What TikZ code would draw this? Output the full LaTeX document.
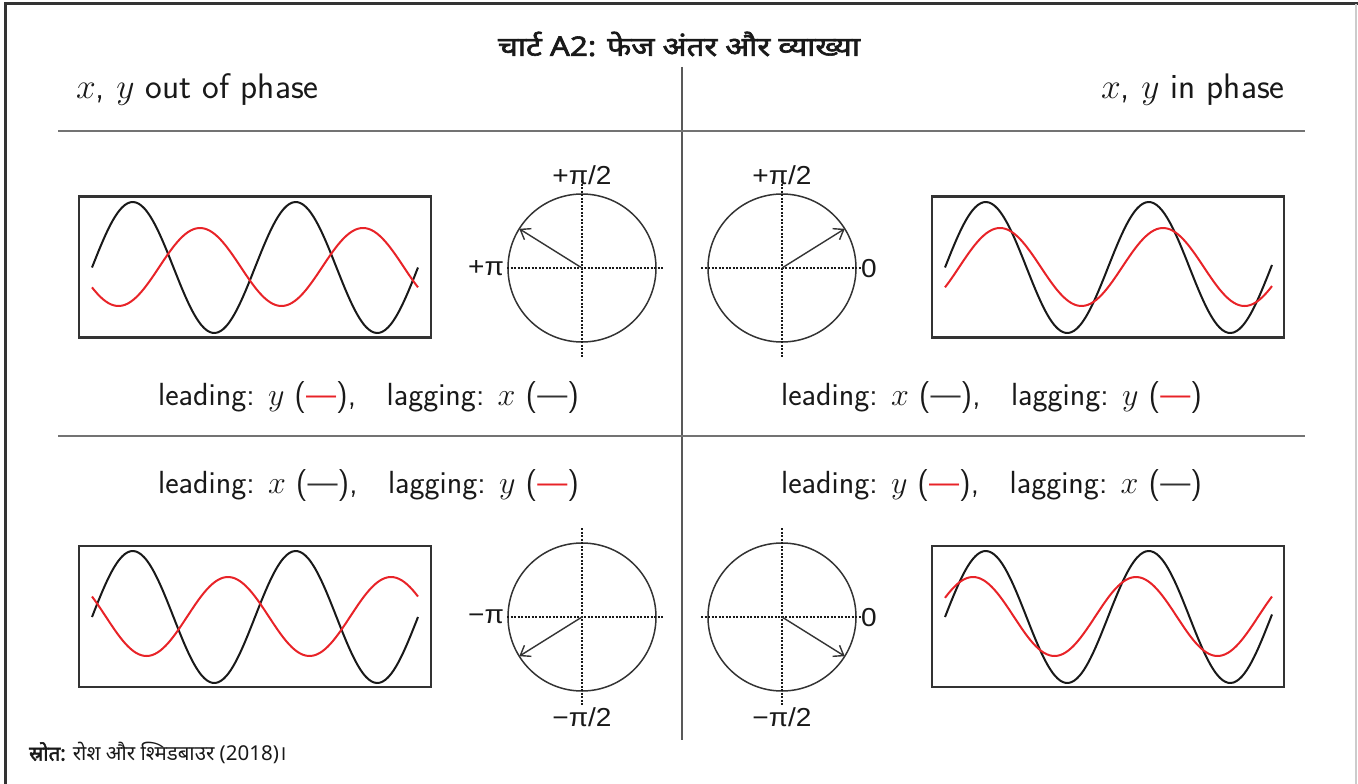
\RequirePackage{fix-cm}
\documentclass[tikz,border=0pt]{standalone}
\usepackage{fontspec}
\newfontfamily\deva[Script=Devanagari]{Noto Sans}
\newfontfamily\devab[Script=Devanagari, FakeBold=2.2]{Noto Sans}
\newfontfamily\helv{Liberation Sans}
\usetikzlibrary{arrows.meta}
\definecolor{wred}{RGB}{232,35,40}
\definecolor{dline}{RGB}{51,51,51}
\tikzset{
  wavebox/.style={draw=dline, line width=2.2pt, rectangle, inner sep=0pt, outer sep=0pt, minimum width=352pt, minimum height=141pt},
  bwave/.style={draw=black!90, line width=2pt},
  rwave/.style={draw=wred, line width=2pt},
  phasor/.style={draw=dline, line width=1.5pt, circle, inner sep=0pt, outer sep=0pt, minimum size=148pt},
  axisline/.style={draw=black!90, line width=1.1pt, dash pattern=on 2pt off 1.5pt},
  vec/.style={draw=dline, line width=1.4pt, -{Straight Barb[length=9pt,width=13pt]}},
  plabel/.style={font=\helv\fontsize{26}{28}\selectfont, inner sep=0pt, text=black!90, xscale=1.08, transform shape},
  head/.style={font=\sffamily\fontsize{35.5}{38}\selectfont, inner sep=0pt, text=black!90},
  lead/.style={font=\sffamily\fontsize{32}{36}\selectfont, inner sep=0pt, text=black!90},
  divider/.style={draw=black!55, line width=1.8pt},
}
\newcommand\rdash{\textcolor{wred}{—}}
\newcommand\kdash{\textcolor{dline}{—}}
\begin{document}
\begin{tikzpicture}[x=1pt,y=-1pt]
\useasboundingbox (0,0) rectangle (1358,784);
% frame
\draw[draw=black!80, line width=3pt] (5,784) -- (5,4) -- (1358,4);
\draw[draw=black!20, line width=1.5pt] (1356,4) -- (1356,784);
% title
\node[font=\devab\fontsize{27}{30}\selectfont, inner sep=0pt, xscale=1.16, transform shape, text=black!90] (title) at (679,44) {चार्ट A2: फेज अंतर और व्याख्या};
% dividers
\coordinate (vtop) at (682,67);
\coordinate (vbot) at (682,740);
\draw[draw=black!65, line width=1.5pt] (vtop) -- (vbot);
\coordinate (h1l) at (58,131); \coordinate (h1r) at (1305,131);
\coordinate (h2l) at (58,436); \coordinate (h2r) at (1305,436);
\draw[divider] (h1l) -- (h1r);
\draw[divider] (h2l) -- (h2r);
% headings
\node[head, anchor=base west] (hout) at (76,99) {$x$, $y$ out of phase};
\node[head, anchor=base east] (hin) at (1285,99) {$x$, $y$ in phase};

% ---------- top-left ----------
\node[wavebox] (bTL) at (255,267) {};
\draw[bwave] plot[domain=92:418, samples=120, smooth] (\x, {267.5-65.5*sin((\x-92)/163*360)});
\draw[rwave] plot[domain=92:418, samples=120, smooth] (\x, {267-39*cos((\x-200)/163*360)});
\node[phasor] (cTL) at (582,268) {};
\draw[axisline] (507,268) -- (663,268);
\draw[axisline] (582,180) -- (582,357);
\draw[vec] (cTL.center) -- (cTL.148);
\node[plabel] (lTLa) at (582,175) {+π/2};
\node[plabel] (lTLb) at (486,268) {+π};
\node[lead, anchor=base west] (tTL) at (158,405) {leading: $y$ (\rdash),\hspace{0.95em}lagging: $x$ (\kdash)};

% ---------- top-right ----------
\node[wavebox] (bTR) at (1108,267) {};
\draw[bwave] plot[domain=945:1272, samples=120, smooth] (\x, {267.5-65.5*sin((\x-945)/163*360)});
\draw[rwave] plot[domain=945:1272, samples=120, smooth] (\x, {267-39*cos((\x-1000)/163*360)});
\node[phasor] (cTR) at (782,268) {};
\draw[axisline] (701,268) -- (862,268);
\draw[axisline] (782,180) -- (782,357);
\draw[vec] (cTR.center) -- (cTR.32);
\node[plabel] (lTRa) at (782,175) {+π/2};
\node[plabel] (lTRb) at (869,269) {0};
\node[lead, anchor=base west] (tTR) at (781,405) {leading: $x$ (\kdash),\hspace{0.95em}lagging: $y$ (\rdash)};

% ---------- bottom-left ----------
\node[lead, anchor=base west] (tBL) at (158,493) {leading: $x$ (\kdash),\hspace{0.95em}lagging: $y$ (\rdash)};
\node[wavebox] (bBL) at (255,616.5) {};
\draw[bwave] plot[domain=92:418, samples=120, smooth] (\x, {617-66*sin((\x-92)/163*360)});
\draw[rwave] plot[domain=92:418, samples=120, smooth] (\x, {616.5-39.5*cos((\x-228)/163*360)});
\node[phasor] (cBL) at (582,617) {};
\draw[axisline] (507,617) -- (663,617);
\draw[axisline] (582,528) -- (582,705);
\draw[vec] (cBL.center) -- (cBL.212);
\node[plabel] (lBLa) at (582,717) {−π/2};
\node[plabel] (lBLb) at (486,617) {−π};

% ---------- bottom-right ----------
\node[lead, anchor=base west] (tBR) at (781,493) {leading: $y$ (\rdash),\hspace{0.95em}lagging: $x$ (\kdash)};
\node[wavebox] (bBR) at (1108,616.5) {};
\draw[bwave] plot[domain=945:1272, samples=120, smooth] (\x, {617-66*sin((\x-945)/163*360)});
\draw[rwave] plot[domain=945:1272, samples=120, smooth] (\x, {616.5-39.5*cos((\x-973)/163*360)});
\node[phasor] (cBR) at (782,617) {};
\draw[axisline] (701,617) -- (862,617);
\draw[axisline] (782,528) -- (782,705);
\draw[vec] (cBR.center) -- (cBR.-32);
\node[plabel] (lBRa) at (782,717) {−π/2};
\node[plabel] (lBRb) at (869,618) {0};

% source
\node[font=\deva\fontsize{20.5}{24}\selectfont, anchor=west, inner sep=0pt, text=black!90] (src) at (29,753) {{\devab स्रोत:} रोश और श्मिडबाउर (2018)।};
\end{tikzpicture}
\end{document}
